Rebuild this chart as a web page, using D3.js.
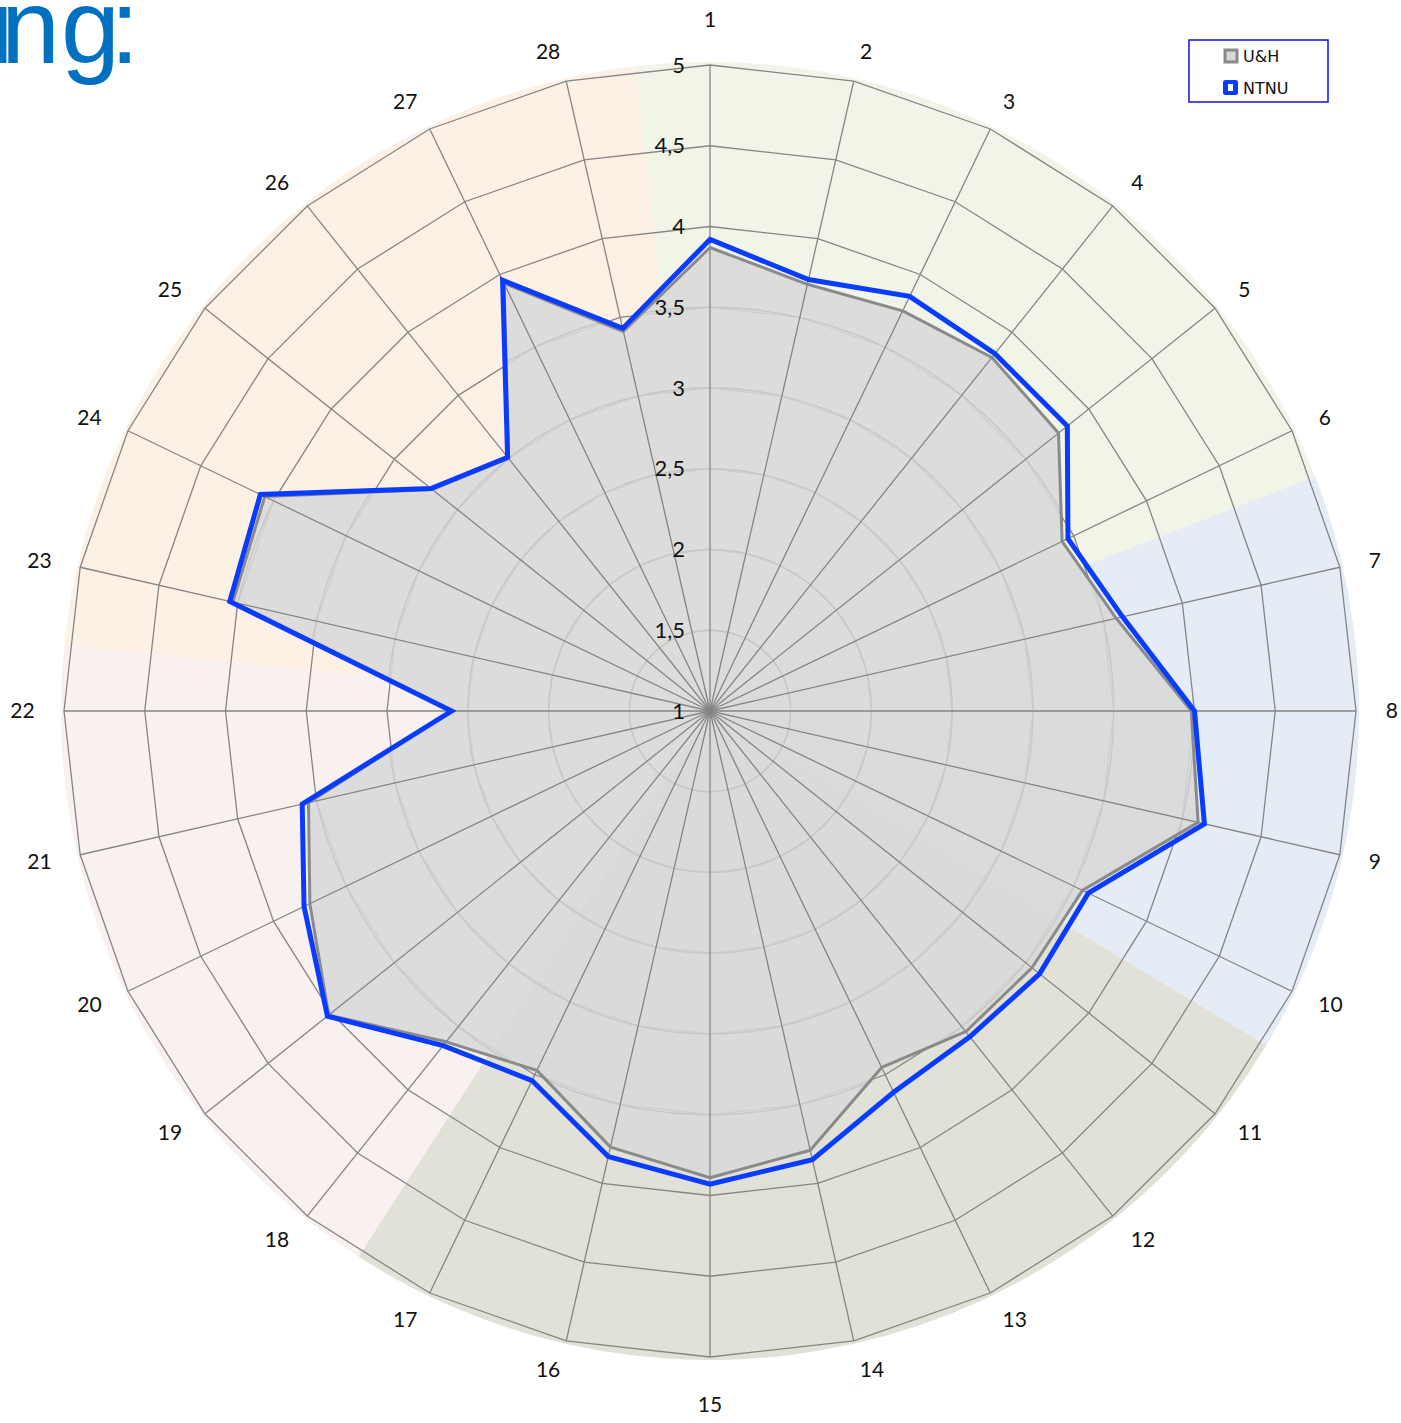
<!DOCTYPE html>
<html>
<head>
<meta charset="utf-8">
<script src="https://cdn.jsdelivr.net/npm/d3@7"></script>
<style>
  body { margin: 0; background: #fff; }
  svg { display: block; }
</style>
</head>
<body>
<svg id="chart" width="1401" height="1423"></svg>
<script>
// categories around the radar
var categories = d3.range(1, 29).map(String);
var ticks = [1, 1.5, 2, 2.5, 3, 3.5, 4, 4.5, 5];
var tickLabels = ['1', '1,5', '2', '2,5', '3', '3,5', '4', '4,5', '5'];

// series values, axis 1..28
var uh   = [3.87, 3.71, 3.75, 3.80, 3.76, 3.42, 3.58, 3.98, 4.10, 3.56, 3.55, 3.54, 3.45, 3.79,
            3.89, 3.77, 3.47, 3.62, 4.02, 3.75, 3.55, 2.60, 4.03, 4.06, 3.20, 3.00, 3.94, 3.41];
var ntnu = [3.92, 3.74, 3.85, 3.83, 3.83, 3.46, 3.62, 4.00, 4.14, 3.60, 3.61, 3.58, 3.62, 3.85,
            3.93, 3.83, 3.54, 3.65, 4.03, 3.79, 3.59, 2.60, 4.05, 4.09, 3.21, 3.01, 3.96, 3.43];

// background sectors (sizes in degrees, clockwise from the first one)
var sectorSizes  = [75.4, 52.2, 91.8, 63.0, 77.6];
var sectorColors = ['#f1f5e8', '#e5ecf6', '#e1e1d7', '#f9f0f0', '#fdf0e5'];
var sectorStart = -6.6;

var svg = d3.select('#chart');
var cx = 710, cy = 711;
var rOuter = 646;
var step = 2 * Math.PI / categories.length;
var r = d3.scaleLinear().domain([1, 5]).range([0, rOuter]);

function pt(i, rad) {
    var a = i * step;
    return [rad * Math.sin(a), -rad * Math.cos(a)];
}

// title fragment, cut by the left edge (tight character spacing as in the slide)
svg.append('text')
    .attr('x', '-10 1 61 110')
    .attr('y', 63)
    .style('font-family', '"Liberation Sans", Arial, sans-serif')
    .style('font-size', '106px')
    .style('fill', '#0070c0')
    .text('ing:');

var g = svg.append('g').attr('transform', 'translate(' + cx + ',' + cy + ')');

// pie behind the radar
var pie = d3.pie().sort(null)
    .startAngle(sectorStart * Math.PI / 180)
    .endAngle(sectorStart * Math.PI / 180 + 2 * Math.PI);
var arc = d3.arc().innerRadius(0).outerRadius(649);
g.selectAll('path.sector')
    .data(pie(sectorSizes))
    .enter().append('path')
    .attr('class', 'sector')
    .attr('d', arc)
    .attr('fill', function(d, i) { return sectorColors[i]; });

// polygon rings
var ring = d3.lineRadial()
    .angle(function(d, i) { return i * step; })
    .radius(function(d) { return r(d); })
    .curve(d3.curveLinearClosed);

g.selectAll('path.ring')
    .data(ticks.slice(1))
    .enter().append('path')
    .attr('class', 'ring')
    .attr('d', function(t) { return ring(categories.map(function() { return t; })); })
    .attr('fill', 'none')
    .attr('stroke', '#858585')
    .attr('stroke-width', 1.3);

// U&H area
g.append('path')
    .attr('d', ring(uh))
    .attr('fill', '#d8d8d8')
    .attr('fill-opacity', 0.88);

// light circular grid inside the area
svg.append('defs').append('clipPath').attr('id', 'uhclip')
    .append('path').attr('d', ring(uh));
g.append('g').attr('clip-path', 'url(#uhclip)')
    .selectAll('circle')
    .data(ticks.slice(1))
    .enter().append('circle')
    .attr('r', function(t) { return r(t); })
    .attr('fill', 'none')
    .attr('stroke', '#c6c6c6')
    .attr('stroke-width', 1.3);

// spokes
g.selectAll('line.spoke')
    .data(categories)
    .enter().append('line')
    .attr('class', 'spoke')
    .attr('x1', 0).attr('y1', 0)
    .attr('x2', function(d, i) { return pt(i, rOuter)[0]; })
    .attr('y2', function(d, i) { return pt(i, rOuter)[1]; })
    .attr('stroke', '#858585')
    .attr('stroke-width', 1.3);

// series lines
g.append('path')
    .attr('d', ring(uh))
    .attr('fill', 'none')
    .attr('stroke', '#8a8a8a')
    .attr('stroke-width', 3)
    .attr('stroke-linejoin', 'round');

g.append('path')
    .attr('d', ring(ntnu))
    .attr('fill', 'none')
    .attr('stroke', '#0a3cff')
    .attr('stroke-width', 5)
    .attr('stroke-linejoin', 'miter');

// tick labels on axis 1
g.selectAll('text.tick')
    .data(ticks)
    .enter().append('text')
    .attr('class', 'tick')
    .attr('x', -25)
    .attr('y', function(t) { return -r(t); })
    .attr('dy', '0.35em')
    .attr('text-anchor', 'end')
    .style('font-family', 'Lato, "Open Sans", sans-serif')
    .style('font-size', '22px')
    .style('fill', '#111')
    .text(function(t, i) { return tickLabels[i]; });

// category labels, Excel style: the label box touches the anchor point
// sideways, or above / below on the vertical axis
var labelR = 676;
function labelPos(d, i) {
    var a = i * step;
    var s = Math.sin(a), c = Math.cos(a);
    var w = d.length * 11.5;
    var p = pt(i, labelR);
    if (Math.abs(s) > 0.001) {
        p[0] += (s > 0 ? 1 : -1) * w / 2;
    } else {
        p[1] += c > 0 ? -15 : 18;
    }
    return p;
}
g.selectAll('text.cat')
    .data(categories)
    .enter().append('text')
    .attr('class', 'cat')
    .attr('x', function(d, i) { return labelPos(d, i)[0]; })
    .attr('y', function(d, i) { return labelPos(d, i)[1]; })
    .attr('dy', '0.35em')
    .attr('text-anchor', 'middle')
    .style('font-family', 'Lato, "Open Sans", sans-serif')
    .style('font-size', '21px')
    .style('fill', '#111')
    .text(function(d) { return d; });

// legend
var lg = svg.append('g').attr('transform', 'translate(1189,40)');
lg.append('rect')
    .attr('width', 139).attr('height', 62)
    .attr('fill', '#fff')
    .attr('stroke', '#1010e0')
    .attr('stroke-width', 1.5);
lg.append('rect')
    .attr('x', 36).attr('y', 10).attr('width', 12).attr('height', 12)
    .attr('fill', '#d8d8d8').attr('stroke', '#8a8a8a').attr('stroke-width', 3);
lg.append('rect')
    .attr('x', 34).attr('y', 40).attr('width', 15).attr('height', 15).attr('rx', 2.5)
    .attr('fill', '#0a3cff');
lg.append('rect')
    .attr('x', 39).attr('y', 44).attr('width', 5).attr('height', 7)
    .attr('fill', '#fff');
lg.append('text')
    .attr('x', 54).attr('y', 16).attr('dy', '0.35em')
    .style('font-family', '"DejaVu Sans", Verdana, sans-serif')
    .style('font-size', '16px')
    .style('fill', '#111')
    .text('U&H');
lg.append('text')
    .attr('x', 54).attr('y', 48).attr('dy', '0.35em')
    .style('font-family', '"DejaVu Sans", Verdana, sans-serif')
    .style('font-size', '16px')
    .style('fill', '#111')
    .text('NTNU');
</script>
</body>
</html>
